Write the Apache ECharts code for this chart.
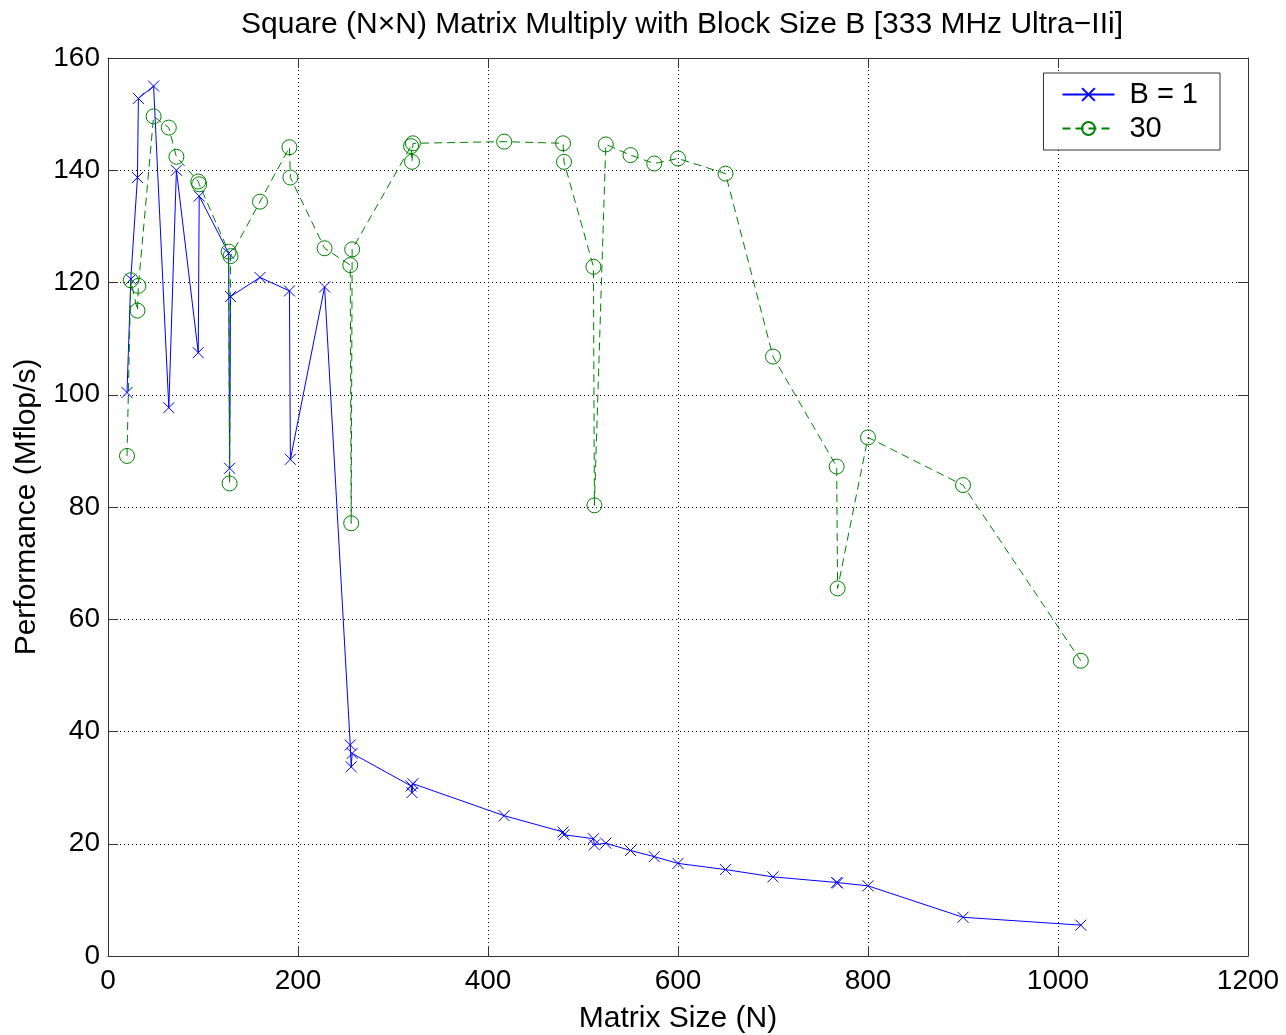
<!DOCTYPE html>
<html>
<head>
  <meta charset="utf-8">
  <title>Matrix Multiply</title>
  <style>
html, body { margin: 0; padding: 0; background: #fff; }
#chart { width: 1286px; height: 1035px; }
  </style>
</head>
<body>
  <div id="chart"></div>
  <script src="https://cdn.jsdelivr.net/npm/echarts@6/dist/echarts.min.js"></script>
  <script>
	// matrix sizes N (same for both runs)
	const sizes = [20, 24, 31, 32, 48, 64, 72, 95, 96, 127, 128, 129, 160, 191, 192, 228, 255, 256, 257,
		319, 320, 321, 417, 479, 480, 511, 512, 524, 550, 575, 600, 650, 700, 767, 768, 800, 900, 1024];
	// Mflop/s, block size 1
	const perfB1 = [100.4, 120.6, 138.7, 152.8, 155.0, 97.7, 140.0, 107.5, 135.4, 125.2, 86.9, 117.5, 120.9, 118.5, 88.5, 119.2, 37.6, 33.7, 36.1,
		30.3, 29.1, 30.7, 25.0, 22.1, 21.6, 20.9, 19.8, 20.1, 18.8, 17.7, 16.5, 15.4, 14.1, 13.1, 13.0, 12.5, 6.9, 5.5];
	// Mflop/s, block size 30
	const perfB30 = [89.1, 120.4, 115.0, 119.4, 149.6, 147.6, 142.4, 138.0, 137.5, 125.5, 84.2, 124.7, 134.4, 144.1, 138.7, 126.1, 123.1, 77.1, 125.9,
		144.3, 141.5, 144.8, 145.1, 144.8, 141.5, 122.8, 80.3, 144.6, 142.7, 141.2, 142.1, 139.4, 106.8, 87.2, 65.5, 92.4, 83.9, 52.6];
	const seriesNames = ['B = 1', '30'];
	const xTicks = { min: 0, max: 1200, interval: 200 };
	const yTicks = { min: 0, max: 160, interval: 20 };

	const font = 'Liberation Sans, Arial, Helvetica, sans-serif';
	const toPairs = (xs, ys) => xs.map((x, i) => [x, ys[i]]);

	// top / right axes just close the box with inward ticks
	const frameAxis = (pos, t) => ({
		type: 'value',
		position: pos,
		min: t.min, max: t.max, interval: t.interval,
		axisLine: { show: true, onZero: false, lineStyle: { color: '#333', width: 1 } },
		axisTick: { show: true, inside: true, length: 10, lineStyle: { color: '#333' } },
		axisLabel: { show: false },
		splitLine: { show: false }
	});

	const chart = echarts.init(document.getElementById('chart'), null, { renderer: 'canvas' });
	chart.setOption({
		animation: false,
		backgroundColor: '#fff',
		title: {
			text: 'Square (N\u00d7N) Matrix Multiply with Block Size B [333 MHz Ultra\u2212IIi]',
			left: 677, top: 5, textAlign: 'center',
			textStyle: { fontFamily: font, fontSize: 30, fontWeight: 'normal', color: '#000' }
		},
		legend: {
			orient: 'vertical',
			right: 66, top: 73,
			data: seriesNames,
			backgroundColor: '#fff',
			borderColor: '#333', borderWidth: 1,
			padding: [7, 22, 7, 18],
			itemGap: 5, itemWidth: 52, itemHeight: 16,
			textStyle: { fontFamily: font, fontSize: 29, color: '#000', padding: [0, 0, 0, 10] }
		},
		grid: { left: 108, right: 38, top: 58, bottom: 79, containLabel: false, outerBoundsMode: 'none' },
		xAxis: [{
			type: 'value',
			min: xTicks.min, max: xTicks.max, interval: xTicks.interval,
			name: 'Matrix Size (N)', nameLocation: 'middle', nameGap: 48,
			nameTextStyle: { fontFamily: font, fontSize: 30, color: '#000' },
			axisLine: { show: true, onZero: false, lineStyle: { color: '#333' } },
			axisTick: { show: true, inside: true, length: 10, lineStyle: { color: '#333' } },
			axisLabel: { fontFamily: font, fontSize: 28, color: '#000', margin: 11, formatter: v => String(v) },
			splitLine: { show: true, lineStyle: { color: '#000', type: [1, 3], width: 1 } }
		}, frameAxis('top', xTicks)],
		yAxis: [{
			type: 'value',
			min: yTicks.min, max: yTicks.max, interval: yTicks.interval,
			name: 'Performance (Mflop/s)', nameLocation: 'middle', nameGap: 66,
			nameTextStyle: { fontFamily: font, fontSize: 30, color: '#000' },
			axisLine: { show: true, onZero: false, lineStyle: { color: '#333' } },
			axisTick: { show: true, inside: true, length: 10, lineStyle: { color: '#333' } },
			axisLabel: { fontFamily: font, fontSize: 28, color: '#000', margin: 8, formatter: v => String(v) },
			splitLine: { show: true, lineStyle: { color: '#000', type: [1, 3], width: 1 } }
		}, frameAxis('right', yTicks)],
		series: [
			{
				name: seriesNames[0],
				type: 'line',
				data: toPairs(sizes, perfB1),
				symbol: 'path://M0,0L10,10M0,10L10,0',
				symbolSize: 11,
				lineStyle: { color: '#0000ff', width: 1 },
				itemStyle: { color: '#0000ff', borderColor: '#0000ff', borderWidth: 1 }
			},
			{
				name: seriesNames[1],
				type: 'line',
				data: toPairs(sizes, perfB30),
				symbol: 'circle',
				symbolSize: 15,
				lineStyle: { color: '#008000', width: 1, type: [8, 5] },
				itemStyle: { color: 'rgba(0,0,0,0)', borderColor: '#008000', borderWidth: 1 }
			}
		]
	});
  </script>
</body>
</html>
